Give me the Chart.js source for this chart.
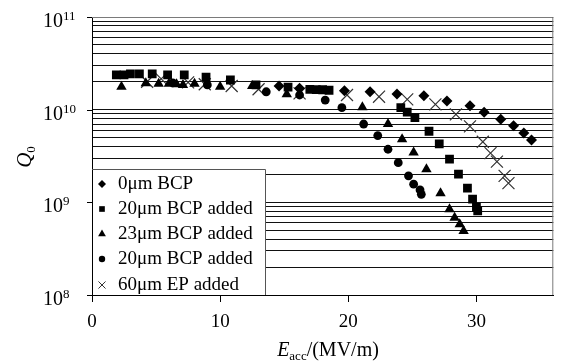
<!DOCTYPE html>
<html>
<head>
<meta charset="utf-8">
<script src="https://cdn.jsdelivr.net/npm/chart.js@4.4.0/dist/chart.umd.min.js"></script>
<style>
  html, body { margin: 0; padding: 0; background: #fff; }
  #wrap { width: 563px; height: 364px; }
</style>
</head>
<body>
<div id="wrap"><canvas id="myChart" width="563" height="364"></canvas></div>
<script>
// series names (legend order)
var seriesLabels = ['0\u03bcm BCP', '20\u03bcm BCP added', '23\u03bcm BCP added', '20\u03bcm BCP added', '60\u03bcm EP added'];

// 0um BCP (diamonds)
var bcp0X = [14.6, 16.2, 19.7, 21.7, 23.8, 25.9, 27.7, 29.5, 30.6, 31.9, 32.9, 33.7, 34.3];
var bcp0Y = [1.80e10, 1.70e10, 1.60e10, 1.56e10, 1.48e10, 1.41e10, 1.24e10, 1.10e10, 9.4e9, 7.9e9, 6.7e9, 5.6e9, 4.7e9];

// 20um BCP added (squares)
var bcp20X = [1.9, 2.5, 3.0, 3.7, 4.7, 5.9, 7.2, 8.9, 10.8, 12.8, 15.3, 17.0, 17.5, 18.0, 18.5, 24.1, 24.6, 25.2, 26.3, 27.1, 27.9, 28.6, 29.3, 29.7, 30.0, 30.1];
var bcp20Y = [2.37e10, 2.37e10, 2.43e10, 2.43e10, 2.43e10, 2.37e10, 2.37e10, 2.24e10, 2.09e10, 1.85e10, 1.75e10, 1.66e10, 1.65e10, 1.64e10, 1.62e10, 1.05e10, 9.4e9, 8.2e9, 5.85e9, 4.27e9, 2.92e9, 2.01e9, 1.42e9, 1.08e9, 8.8e8, 8.1e8];

// 23um BCP added (triangles)
var bcp23X = [2.3, 4.2, 5.2, 6.0, 6.6, 7.1, 8.0, 10.0, 12.5, 15.2, 21.1, 23.1, 24.2, 25.1, 26.1, 27.2, 27.9, 28.3, 28.7, 29.0];
var bcp23Y = [1.77e10, 1.93e10, 1.90e10, 1.90e10, 1.88e10, 1.85e10, 1.90e10, 1.77e10, 1.80e10, 1.47e10, 1.06e10, 7.0e9, 4.8e9, 3.44e9, 2.28e9, 1.25e9, 8.4e8, 6.8e8, 5.8e8, 4.9e8];

// 20um BCP added, second run (circles)
var bcp20bX = [6.3, 9.0, 13.6, 16.2, 18.2, 19.5, 21.2, 22.3, 23.1, 23.9, 24.7, 25.1, 25.6, 25.7];
var bcp20bY = [1.95e10, 1.85e10, 1.56e10, 1.44e10, 1.27e10, 1.05e10, 7.0e9, 5.25e9, 3.74e9, 2.68e9, 1.93e9, 1.57e9, 1.36e9, 1.22e9];

// 60um EP added (crosses)
var ep60X = [4.3, 5.4, 7.5, 8.8, 10.9, 13.0, 16.2, 19.9, 22.4, 24.6, 26.8, 28.4, 29.5, 30.5, 31.1, 31.6, 32.2, 32.5];
var ep60Y = [2.0e10, 2.15e10, 1.97e10, 1.88e10, 1.80e10, 1.66e10, 1.50e10, 1.44e10, 1.38e10, 1.29e10, 1.14e10, 8.9e9, 6.6e9, 4.5e9, 3.4e9, 2.75e9, 1.93e9, 1.61e9];

var xTicks = [0, 10, 20, 30];
var yDecades = [8, 9, 10, 11];

var serif = '"Liberation Serif", "Times New Roman", serif';
var pointStyles = ['rectRot', 'rect', 'triangle', 'circle', 'crossRot'];

function toPoints(xs, ys) {
  return xs.map(function(x, i) {
    return { x: x, y: ys[i] };
  });
}

function makeSet(i, xs, ys, radius) {
  var isCross = pointStyles[i] === 'crossRot';
  return {
    label: seriesLabels[i],
    data: toPoints(xs, ys),
    showLine: false,
    pointStyle: pointStyles[i],
    pointRadius: radius,
    pointHoverRadius: radius,
    backgroundColor: '#000',
    borderColor: isCross ? '#333' : '#000',
    borderWidth: isCross ? 1.2 : 0
  };
}

var decor = {
  id: 'decor',
  afterDraw: function(chart) {
    var ctx = chart.ctx;
    var area = chart.chartArea;
    var yScale = chart.scales.y;
    ctx.save();

    // top and right frame
    ctx.strokeStyle = '#7a7a7a';
    ctx.lineWidth = 1;
    ctx.beginPath();
    ctx.moveTo(area.left, area.top + 0.5);
    ctx.lineTo(area.right - 0.5, area.top + 0.5);
    ctx.lineTo(area.right - 0.5, area.bottom);
    ctx.stroke();

    // major y ticks and 10^n labels
    ctx.strokeStyle = '#000';
    ctx.fillStyle = '#000';
    ctx.textBaseline = 'alphabetic';
    yDecades.forEach(function(p) {
      var y = Math.round(yScale.getPixelForValue(Math.pow(10, p))) + 0.5;
      ctx.beginPath();
      ctx.moveTo(area.left - 5, y);
      ctx.lineTo(area.left, y);
      ctx.stroke();
      ctx.font = '20px ' + serif;
      ctx.textAlign = 'right';
      ctx.fillText('10', 63, y + 9);
      ctx.font = '13px ' + serif;
      ctx.textAlign = 'left';
      ctx.fillText(String(p), 63, y + 2);
    });

    // x title: E_acc/(MV/m)
    var big = '20px ' + serif, bigIt = 'italic 20px ' + serif, small = '13px ' + serif;
    ctx.font = bigIt; var wE = ctx.measureText('E').width;
    ctx.font = small; var wS = ctx.measureText('acc').width;
    ctx.font = big; var wR = ctx.measureText('/(MV/m)').width;
    var x0 = 328 - (wE + wS + wR) / 2;
    var base = 356;
    ctx.textAlign = 'left';
    ctx.font = bigIt; ctx.fillText('E', x0, base);
    ctx.font = small; ctx.fillText('acc', x0 + wE, base + 4);
    ctx.font = big; ctx.fillText('/(MV/m)', x0 + wE + wS, base);

    // y title: Q_0
    ctx.save();
    ctx.translate(31, 157);
    ctx.rotate(-Math.PI / 2);
    ctx.font = 'italic 21px ' + serif; var wQ = ctx.measureText('Q').width;
    ctx.font = small; var w0 = ctx.measureText('0').width;
    var q0 = -(wQ + w0) / 2;
    ctx.font = 'italic 21px ' + serif; ctx.fillText('Q', q0, 0);
    ctx.font = small; ctx.fillText('0', q0 + wQ, 4);
    ctx.restore();

    // legend box inside the plot
    var lx = area.left + 1, ly = 169, rx = 265;
    ctx.fillStyle = '#fff';
    ctx.fillRect(lx, ly, rx - lx, area.bottom - ly - 1);
    ctx.strokeStyle = '#555';
    ctx.beginPath();
    ctx.moveTo(area.left, ly + 0.5);
    ctx.lineTo(rx + 0.5, ly + 0.5);
    ctx.lineTo(rx + 0.5, area.bottom);
    ctx.stroke();

    var rowY = [183, 208, 233, 258, 284];
    var legRad = [4, 4, 4.5, 3.2, 5];
    ctx.font = '19px ' + serif;
    ctx.textBaseline = 'middle';
    seriesLabels.forEach(function(label, i) {
      ctx.fillStyle = '#000';
      ctx.strokeStyle = pointStyles[i] === 'crossRot' ? '#333' : '#000';
      ctx.lineWidth = 1;
      Chart.helpers.drawPoint(ctx, {
        pointStyle: pointStyles[i],
        radius: legRad[i],
        rotation: 0,
        borderWidth: pointStyles[i] === 'crossRot' ? 1 : 0
      }, 102, rowY[i] + 1);
      ctx.fillStyle = '#000';
      ctx.textAlign = 'left';
      ctx.fillText(label, 118, rowY[i] + 1);
    });

    ctx.restore();
  }
};

var ctx = document.getElementById('myChart').getContext('2d');
var myChart = new Chart(ctx, {
  type: 'scatter',
  data: {
    datasets: [
      makeSet(0, bcp0X, bcp0Y, 5.5),
      makeSet(1, bcp20X, bcp20Y, 6.2),
      makeSet(2, bcp23X, bcp23Y, 6),
      makeSet(3, bcp20bX, bcp20bY, 4.4),
      makeSet(4, ep60X, ep60Y, 8.5)
    ]
  },
  options: {
    responsive: false,
    devicePixelRatio: 1,
    animation: false,
    layout: { padding: { top: 17, right: 3, left: 0, bottom: 0 } },
    plugins: {
      legend: { display: false },
      tooltip: { enabled: false }
    },
    scales: {
      x: {
        type: 'linear',
        min: 0,
        max: 36,
        afterBuildTicks: function(scale) {
          scale.ticks = xTicks.map(function(v) { return { value: v }; });
        },
        afterFit: function(scale) { scale.height = 69; },
        grid: { drawOnChartArea: false, color: '#000', tickLength: 7 },
        border: { color: '#000', width: 1 },
        ticks: {
          color: '#000',
          padding: 9,
          maxRotation: 0,
          font: { family: serif, size: 19 }
        }
      },
      y: {
        type: 'logarithmic',
        min: 1e8,
        max: 1e11,
        afterBuildTicks: function(scale) {
          var t = [];
          for (var p = 8; p < 11; p++) {
            for (var m = 1; m < 10; m++) t.push({ value: m * Math.pow(10, p) });
          }
          t.push({ value: 1e11 });
          scale.ticks = t;
        },
        afterFit: function(scale) { scale.width = 92; },
        grid: { color: '#111', lineWidth: 1, drawTicks: false },
        border: { color: '#000', width: 1 },
        ticks: { display: false }
      }
    }
  },
  plugins: [decor]
});
</script>
</body>
</html>
